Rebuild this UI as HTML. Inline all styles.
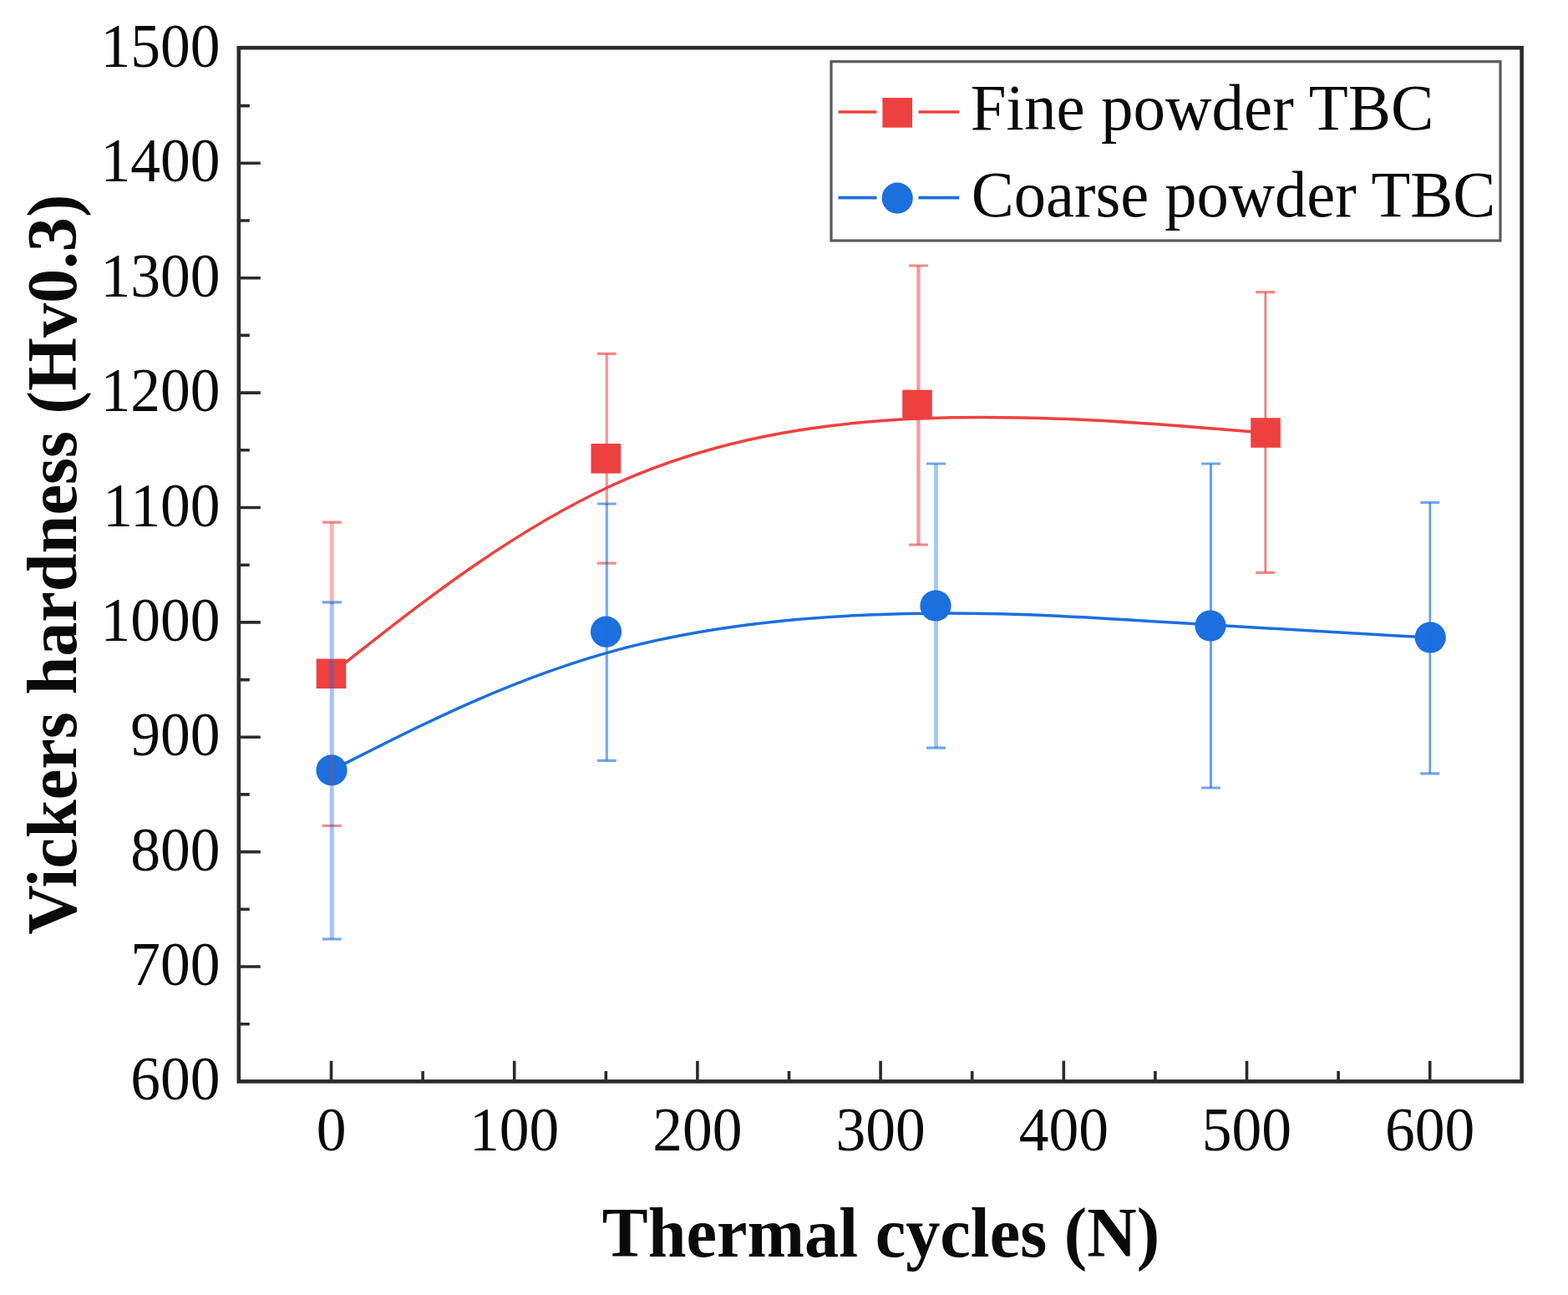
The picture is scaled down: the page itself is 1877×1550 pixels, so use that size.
<!DOCTYPE html>
<html><head><meta charset="utf-8"><title>Vickers hardness vs thermal cycles</title>
<style>
html,body{margin:0;padding:0;background:#fff;}
svg{display:block;}
text{font-family:"Liberation Serif","Times New Roman",serif;fill:#0a0a0a;}
</style></head><body>
<svg width="1877" height="1550" viewBox="0 0 1877 1550">
<rect width="1877" height="1550" fill="#fff"/>
<path d="M285.8,1225.7h13 M285.8,1157.0h26 M285.8,1088.3h13 M285.8,1019.6h26 M285.8,950.9h13 M285.8,882.3h26 M285.8,813.6h13 M285.8,744.9h26 M285.8,676.2h13 M285.8,607.5h26 M285.8,538.8h13 M285.8,470.1h26 M285.8,401.4h13 M285.8,332.7h26 M285.8,264.0h13 M285.8,195.3h26 M285.8,126.6h13 M396.5,1294.4v-24.6 M506.1,1294.4v-12.4 M615.7,1294.4v-24.6 M725.3,1294.4v-12.4 M834.9,1294.4v-24.6 M944.5,1294.4v-12.4 M1054.1,1294.4v-24.6 M1163.7,1294.4v-12.4 M1273.3,1294.4v-24.6 M1382.9,1294.4v-12.4 M1492.5,1294.4v-24.6 M1602.1,1294.4v-12.4 M1711.7,1294.4v-24.6" stroke="#2b2b2b" stroke-width="3.6" fill="none"/>
<text transform="translate(263.5,1316.4) scale(1,1.03)" text-anchor="end" font-size="71.5">600</text>
<text transform="translate(263.5,1179.0) scale(1,1.03)" text-anchor="end" font-size="71.5">700</text>
<text transform="translate(263.5,1041.6) scale(1,1.03)" text-anchor="end" font-size="71.5">800</text>
<text transform="translate(263.5,904.3) scale(1,1.03)" text-anchor="end" font-size="71.5">900</text>
<text transform="translate(263.5,766.9) scale(1,1.03)" text-anchor="end" font-size="71.5">1000</text>
<text transform="translate(263.5,629.5) scale(1,1.03)" text-anchor="end" font-size="71.5">1100</text>
<text transform="translate(263.5,492.1) scale(1,1.03)" text-anchor="end" font-size="71.5">1200</text>
<text transform="translate(263.5,354.7) scale(1,1.03)" text-anchor="end" font-size="71.5">1300</text>
<text transform="translate(263.5,217.3) scale(1,1.03)" text-anchor="end" font-size="71.5">1400</text>
<text transform="translate(263.5,80.0) scale(1,1.03)" text-anchor="end" font-size="71.5">1500</text>
<text transform="translate(396.5,1377.3) scale(1,1.03)" text-anchor="middle" font-size="71.5">0</text>
<text transform="translate(615.7,1377.3) scale(1,1.03)" text-anchor="middle" font-size="71.5">100</text>
<text transform="translate(834.9,1377.3) scale(1,1.03)" text-anchor="middle" font-size="71.5">200</text>
<text transform="translate(1054.1,1377.3) scale(1,1.03)" text-anchor="middle" font-size="71.5">300</text>
<text transform="translate(1273.3,1377.3) scale(1,1.03)" text-anchor="middle" font-size="71.5">400</text>
<text transform="translate(1492.5,1377.3) scale(1,1.03)" text-anchor="middle" font-size="71.5">500</text>
<text transform="translate(1711.7,1377.3) scale(1,1.03)" text-anchor="middle" font-size="71.5">600</text>
<text transform="translate(720.8,1503.5) scale(1,1.035)" font-size="82.3" font-weight="bold">Thermal cycles (N)</text>
<text transform="translate(90.5,1118.8) rotate(-90) scale(1,1.035)" font-size="82.3" font-weight="bold">Vickers hardness (Hv0.3)</text>
<path d="M396.5,806.3 C396.5,806.3 396.5,806.3 451.3,763.4 C506.1,720.5 615.7,634.6 732.6,581.0 C849.5,527.4 973.8,505.9 1105.4,500.8 C1237.0,495.7 1376.0,506.8 1445.5,512.4 C1515.0,518.0 1515.0,518.0 1515.0,518.0" stroke="#ef4040" stroke-width="3.5" fill="none"/>
<path d="M397.0,921.9 C397.0,921.9 397.0,921.9 451.8,894.3 C506.5,866.7 616.0,811.4 736.5,778.6 C857.0,745.8 988.5,735.4 1109.1,734.2 C1229.7,733.0 1339.3,741.0 1438.0,747.3 C1536.7,753.7 1624.5,758.3 1668.3,760.7 C1712.2,763.0 1712.2,763.0 1712.2,763.0" stroke="#1b6fde" stroke-width="3.5" fill="none"/>
<rect x="378.7" y="788.5" width="35.6" height="35.6" fill="#ef4040"/>
<rect x="707.5" y="531.0" width="35.6" height="35.6" fill="#ef4040"/>
<rect x="1080.2" y="466.7" width="35.6" height="35.6" fill="#ef4040"/>
<rect x="1497.2" y="500.2" width="35.6" height="35.6" fill="#ef4040"/>
<circle cx="397.0" cy="921.9" r="18.6" fill="#1b6fde"/>
<circle cx="725.5" cy="756.2" r="18.6" fill="#1b6fde"/>
<circle cx="1120.0" cy="725.0" r="18.6" fill="#1b6fde"/>
<circle cx="1449.0" cy="749.0" r="18.6" fill="#1b6fde"/>
<circle cx="1712.2" cy="763.0" r="18.6" fill="#1b6fde"/>
<path d="M397.3,625.2V988.4" stroke="#ef4040" stroke-width="5.0" stroke-opacity="0.38" fill="none"/>
<path d="M385.8,625.2h23M385.8,988.4h23" stroke="#ef4040" stroke-width="3.2" stroke-opacity="0.62" fill="none"/>
<path d="M726.3,423.3V674.1" stroke="#ef4040" stroke-width="3.2" stroke-opacity="0.55" fill="none"/>
<path d="M714.8,423.3h23M714.8,674.1h23" stroke="#ef4040" stroke-width="3.2" stroke-opacity="0.62" fill="none"/>
<path d="M1099.4,318.0V652.0" stroke="#ef4040" stroke-width="4.2" stroke-opacity="0.52" fill="none"/>
<path d="M1087.9,318.0h23M1087.9,652.0h23" stroke="#ef4040" stroke-width="3.2" stroke-opacity="0.62" fill="none"/>
<path d="M1514.8,349.7V685.4" stroke="#ef4040" stroke-width="2.6" stroke-opacity="0.7" fill="none"/>
<path d="M1503.3,349.7h23M1503.3,685.4h23" stroke="#ef4040" stroke-width="3.2" stroke-opacity="0.62" fill="none"/>
<path d="M397.3,723.5V788.5 M397.3,824.1V903.3 M397.3,940.5V986.8 M726.3,604.8V672.5" stroke="#fff" stroke-width="6.4" fill="none"/>
<path d="M397.3,720.9V1124.0" stroke="#1b6fde" stroke-width="5.0" stroke-opacity="0.4" fill="none"/>
<path d="M385.8,720.9h23M385.8,1124.0h23" stroke="#1b6fde" stroke-width="3.2" stroke-opacity="0.62" fill="none"/>
<path d="M726.3,603.0V910.3" stroke="#1b6fde" stroke-width="3.2" stroke-opacity="0.58" fill="none"/>
<path d="M714.8,603.0h23M714.8,910.3h23" stroke="#1b6fde" stroke-width="3.2" stroke-opacity="0.62" fill="none"/>
<path d="M1120.5,555.0V895.2" stroke="#1b6fde" stroke-width="5.0" stroke-opacity="0.38" fill="none"/>
<path d="M1109.0,555.0h23M1109.0,895.2h23" stroke="#1b6fde" stroke-width="3.2" stroke-opacity="0.62" fill="none"/>
<path d="M1449.5,555.0V943.0" stroke="#1b6fde" stroke-width="3.0" stroke-opacity="0.65" fill="none"/>
<path d="M1438.0,555.0h23M1438.0,943.0h23" stroke="#1b6fde" stroke-width="3.2" stroke-opacity="0.62" fill="none"/>
<path d="M1711.8,601.5V925.9" stroke="#1b6fde" stroke-width="2.7" stroke-opacity="0.68" fill="none"/>
<path d="M1700.3,601.5h23M1700.3,925.9h23" stroke="#1b6fde" stroke-width="3.2" stroke-opacity="0.62" fill="none"/>
<rect x="285.8" y="57.2" width="1535.8" height="1237.2" fill="none" stroke="#2b2b2b" stroke-width="4.6"/>
<rect x="995.0" y="73.7" width="801.0" height="214.3" fill="none" stroke="#5a5a5a" stroke-width="3.2"/>
<path d="M1003.5,134.0H1049.5M1099.5,134.0H1148.3" stroke="#ef4040" stroke-width="3.6" fill="none"/>
<rect x="1056.4" y="117.1" width="35.6" height="35.6" fill="#ef4040"/>
<path d="M1003.5,236.6H1049.5M1099.5,236.6H1148.3" stroke="#1b6fde" stroke-width="3.6" fill="none"/>
<circle cx="1074.2" cy="237.1" r="18.6" fill="#1b6fde"/>
<text transform="translate(1161.8,155.2) scale(1,1.025)" font-size="77">Fine powder TBC</text>
<text transform="translate(1162.8,258.8) scale(1,1.03)" font-size="76.5">Coarse powder TBC</text>
</svg>
</body></html>
